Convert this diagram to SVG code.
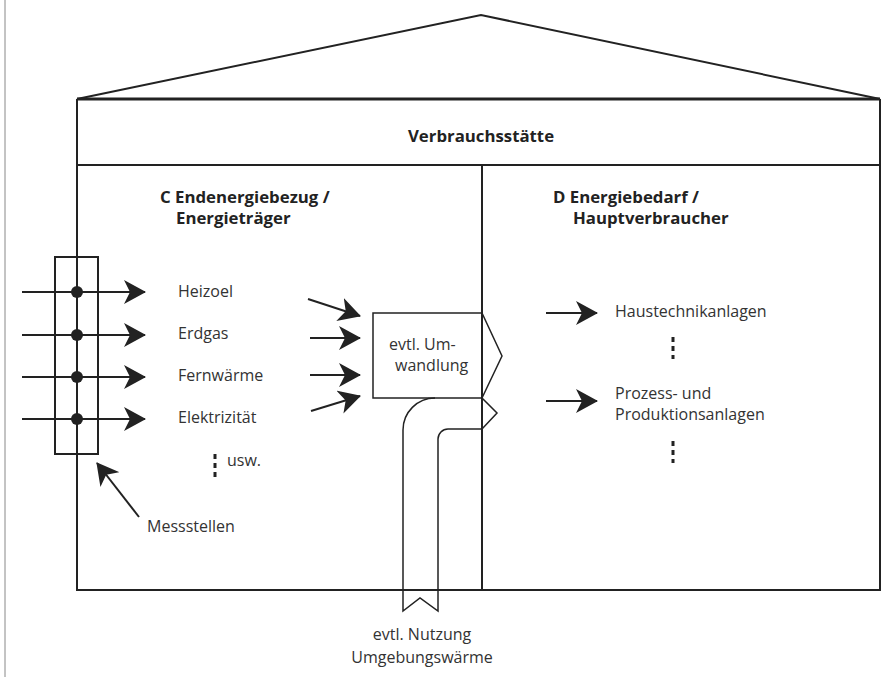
<svg xmlns="http://www.w3.org/2000/svg" width="891" height="677" viewBox="0 0 891 677">
<style>
.ln{fill:none;stroke:#222;stroke-width:2}
.thin{fill:none;stroke:#222;stroke-width:1.5}
.dot{fill:none;stroke:#222;stroke-width:3;stroke-dasharray:5 4}
.t{font-family:"Open Sans","Liberation Sans",sans-serif;font-size:16px;fill:#333}
.b{font-family:"Open Sans","Liberation Sans",sans-serif;font-size:16.8px;font-weight:bold;fill:#222}
.arr{fill:none;stroke:#222;stroke-width:2;marker-end:url(#ah)}
</style>
<defs>
<marker id="ah" markerUnits="userSpaceOnUse" viewBox="0 0 22 24" refX="21" refY="12" markerWidth="22" markerHeight="24" orient="auto">
<path d="M0,0 L22,12 L0,24 L6,12 Z" fill="#222"/>
</marker>
</defs>
<rect width="891" height="677" fill="#fff"/>
<line x1="5" y1="0" x2="5" y2="677" stroke="#888" stroke-width="1"/>

<g id="building">
<polyline class="ln" points="77,99 481,15 880,99"/>
<line x1="77" y1="99" x2="880" y2="99" stroke="#222" stroke-width="3"/>
<polyline class="ln" points="77,99 77,590 880,590 880,99"/>
<line class="ln" x1="77" y1="165" x2="880" y2="165"/>
<line class="ln" x1="482" y1="165" x2="482" y2="590"/>
<text class="b" x="481" y="142" text-anchor="middle">Verbrauchsstätte</text>
</g>

<g id="section-c">
<text class="b" x="160" y="203">C Endenergiebezug /</text>
<text class="b" x="176" y="224">Energieträger</text>
</g>

<g id="section-d">
<text class="b" x="553" y="203">D Energiebedarf /</text>
<text class="b" x="573" y="224">Hauptverbraucher</text>
</g>

<g id="messstellen">
<rect class="ln" x="55" y="257" width="43" height="197"/>
<circle cx="77" cy="292" r="6" fill="#222"/>
<circle cx="77" cy="335" r="6" fill="#222"/>
<circle cx="77" cy="377" r="6" fill="#222"/>
<circle cx="77" cy="419" r="6" fill="#222"/>
<text class="t" x="147" y="532">Messstellen</text>
</g>

<g id="energietraeger">
<text class="t" x="178" y="297">Heizoel</text>
<text class="t" x="178" y="339">Erdgas</text>
<text class="t" x="178" y="381">Fernwärme</text>
<text class="t" x="178" y="423">Elektrizität</text>
<line class="dot" x1="215" y1="454" x2="215" y2="477"/>
<text class="t" x="227" y="466">usw.</text>
</g>

<g id="umwandlung">
<rect class="thin" x="373" y="313" width="109" height="85"/>
<text class="t" x="389" y="350">evtl. Um-</text>
<text class="t" x="395" y="371">wandlung</text>
<polyline class="thin" points="482,313 502,356 482,398"/>
<polyline class="thin" points="482,398 497,413 482,429"/>
</g>

<g id="umgebungswaerme">
<path class="thin" d="M435,398 A32,32 0 0 0 403,430 L403,611 L420,598 L438,611 L438,439 A10,10 0 0 1 448,429 L482,429"/>
<text class="t" x="422" y="640" text-anchor="middle">evtl. Nutzung</text>
<text class="t" x="422" y="663" text-anchor="middle">Umgebungswärme</text>
</g>

<g id="verbraucher">
<text class="t" x="615" y="317">Haustechnikanlagen</text>
<line class="dot" x1="673" y1="337" x2="673" y2="359"/>
<text class="t" x="615" y="399">Prozess- und</text>
<text class="t" x="615" y="420">Produktionsanlagen</text>
<line class="dot" x1="673" y1="441" x2="673" y2="463"/>
</g>

<g id="connectors">
<line class="arr" x1="22" y1="292" x2="145" y2="292"/>
<line class="arr" x1="22" y1="335" x2="145" y2="335"/>
<line class="arr" x1="22" y1="377" x2="145" y2="377"/>
<line class="arr" x1="22" y1="419" x2="145" y2="419"/>
<line class="arr" x1="139" y1="517" x2="97" y2="463"/>
<line class="arr" x1="308" y1="299" x2="360" y2="316"/>
<line class="arr" x1="310" y1="338" x2="360" y2="338"/>
<line class="arr" x1="310" y1="375" x2="360" y2="375"/>
<line class="arr" x1="311" y1="411" x2="360" y2="396"/>
<line class="arr" x1="546" y1="313" x2="597" y2="313"/>
<line class="arr" x1="546" y1="401" x2="597" y2="401"/>
</g>
</svg>
